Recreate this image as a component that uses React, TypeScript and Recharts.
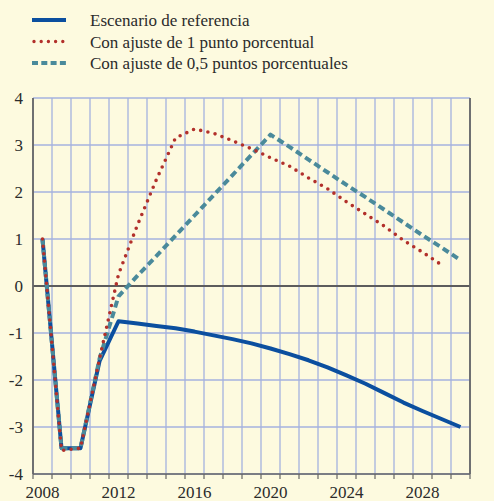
import {
  CartesianGrid,
  Line,
  LineChart,
  ReferenceLine,
  XAxis,
  YAxis,
} from "recharts";

const YEARS = [
  2008, 2009, 2010, 2011, 2012, 2013, 2014, 2015, 2016, 2017, 2018, 2019,
  2020, 2021, 2022, 2023, 2024, 2025, 2026, 2027, 2028, 2029, 2030,
];

// Escenario de referencia
const BASELINE = [
  1.0, -3.45, -3.45, -1.6, -0.75, -0.8, -0.85, -0.9, -0.97, -1.05, -1.13,
  -1.22, -1.33, -1.45, -1.58, -1.73, -1.9, -2.08, -2.28, -2.48, -2.66, -2.83,
  -3.0,
];

// Con ajuste de 1 punto porcentual
const ONE_POINT = [
  1.0, -3.5, -3.45, -1.55, 0.25, 1.3, 2.27, 3.15, 3.34, 3.25, 3.09, 2.92,
  2.73, 2.55, 2.3, 2.07, 1.79, 1.53, 1.27, 0.97, 0.72, 0.45, null,
];

// Con ajuste de 0,5 puntos porcentuales
const HALF_POINT = [
  1.0, -3.45, -3.45, -1.55, -0.22, 0.22, 0.64, 1.07, 1.5, 1.93, 2.36, 2.79,
  3.22, 2.96, 2.69, 2.42, 2.15, 1.89, 1.62, 1.35, 1.08, 0.82, 0.55,
];

const X_TICKS = [...YEARS, 2031];
const LABEL_YEARS = [2008, 2012, 2016, 2020, 2024, 2028];
const Y_TICKS = [-4, -3, -2, -1, 0, 1, 2, 3, 4];

const SERIES = [
  { key: "base", name: "Escenario de referencia", color: "#0b4f9f", dash: undefined, width: 4, cap: "butt" },
  { key: "half", name: "Con ajuste de 0,5 puntos porcentuales", color: "#4a8a9b", dash: "7 4", width: 4, cap: "butt" },
  { key: "one", name: "Con ajuste de 1 punto porcentual", color: "#b2302b", dash: "0 7.4", width: 3.6, cap: "round" },
];

const LEGEND_ORDER = ["base", "one", "half"];

const BG = "#fdfadf";
const GRID = "#a5b2df";
const AXIS = "#666666";
const FONT = "Times New Roman, Times, Liberation Serif, Tinos, DejaVu Serif, Noto Serif, serif";
const TEXT_STYLE = { fontFamily: FONT, fontSize: 17 };

// points sit in the middle of each year
const data = YEARS.map((year, i) => ({
  x: year + 0.5,
  base: BASELINE[i],
  one: ONE_POINT[i],
  half: HALF_POINT[i],
}));

function YearTick(props: any) {
  const { x, y, payload, width } = props;
  if (!LABEL_YEARS.includes(payload.value)) return null;
  const half = typeof width === "number" ? width / YEARS.length / 2 : 9.5;
  return (
    <text
      x={x + half}
      y={y + 5}
      dy="0.71em"
      textAnchor="middle"
      style={TEXT_STYLE}
      fill="#2b2b2b"
    >
      {payload.value}
    </text>
  );
}

function LeftTick(props: any) {
  const { x, y, payload } = props;
  return (
    <text x={x} y={y} dy="0.355em" textAnchor="end" style={TEXT_STYLE} fill="#2b2b2b">
      {payload.value}
    </text>
  );
}

function RightTick(props: any) {
  const { x, y, payload } = props;
  return (
    <text
      x={x + 22}
      y={y}
      dy="0.355em"
      textAnchor="end"
      style={TEXT_STYLE}
      fill="#2b2b2b"
    >
      {payload.value}
    </text>
  );
}

function LegendBox() {
  return (
    <svg
      width={494}
      height={80}
      style={{ position: "absolute", left: 0, top: 0 }}
    >
      {LEGEND_ORDER.map((k, i) => {
        const s = SERIES.find((d) => d.key === k)!;
        const cy = 20 + i * 21.5;
        return (
          <g key={k}>
            <line
              x1={k === "one" ? 34 : 32}
              x2={66}
              y1={cy}
              y2={cy}
              stroke={s.color}
              strokeWidth={s.key === "one" ? 3.4 : 4}
              strokeDasharray={k === "half" ? "6 3.3" : k === "one" ? "0 7.2" : undefined}
              strokeLinecap={s.cap as any}
            />
            <text x={90} y={cy + 6} style={TEXT_STYLE} fill="#2b2b2b">
              {s.name}
            </text>
          </g>
        );
      })}
    </svg>
  );
}

export default function App() {
  return (
    <div
      style={{
        position: "fixed",
        left: 0,
        top: 0,
        width: 494,
        height: 501,
        background: BG,
        overflow: "hidden",
        fontFamily: FONT,
      }}
    >
      <LineChart
        width={494}
        height={501}
        data={data}
        margin={{ top: 98, right: 0, bottom: 0, left: 0 }}
      >
        <CartesianGrid stroke={GRID} strokeWidth={1.3} />
        <XAxis
          dataKey="x"
          type="number"
          domain={[2008, 2031]}
          ticks={X_TICKS}
          interval={0}
          height={27}
          axisLine={{ stroke: AXIS, strokeWidth: 1.5 }}
          tickLine={{ stroke: AXIS, strokeWidth: 1.2 }}
          tickSize={5}
          tickMargin={2}
          tick={<YearTick />}
        />
        <YAxis
          domain={[-4, 4]}
          ticks={Y_TICKS}
          interval={0}
          width={33}
          axisLine={{ stroke: AXIS, strokeWidth: 1.8 }}
          tickLine={false}
          tickSize={0}
          tickMargin={10}
          tick={<LeftTick />}
        />
        <YAxis
          yAxisId="r"
          orientation="right"
          domain={[-4, 4]}
          ticks={Y_TICKS}
          interval={0}
          width={24}
          axisLine={{ stroke: AXIS, strokeWidth: 1.8 }}
          tickLine={false}
          tickSize={0}
          tickMargin={0}
          tick={<RightTick />}
        />
        <ReferenceLine y={0} stroke="#5c5c5c" strokeWidth={2} />
        {SERIES.map((s) => (
          <Line
            key={s.key}
            type="linear"
            dataKey={s.key}
            name={s.name}
            stroke={s.color}
            strokeWidth={s.width}
            strokeDasharray={s.dash}
            strokeLinecap={s.cap as any}
            strokeLinejoin="round"
            dot={false}
            activeDot={false}
            isAnimationActive={false}
          />
        ))}
      </LineChart>
      <LegendBox />
    </div>
  );
}
